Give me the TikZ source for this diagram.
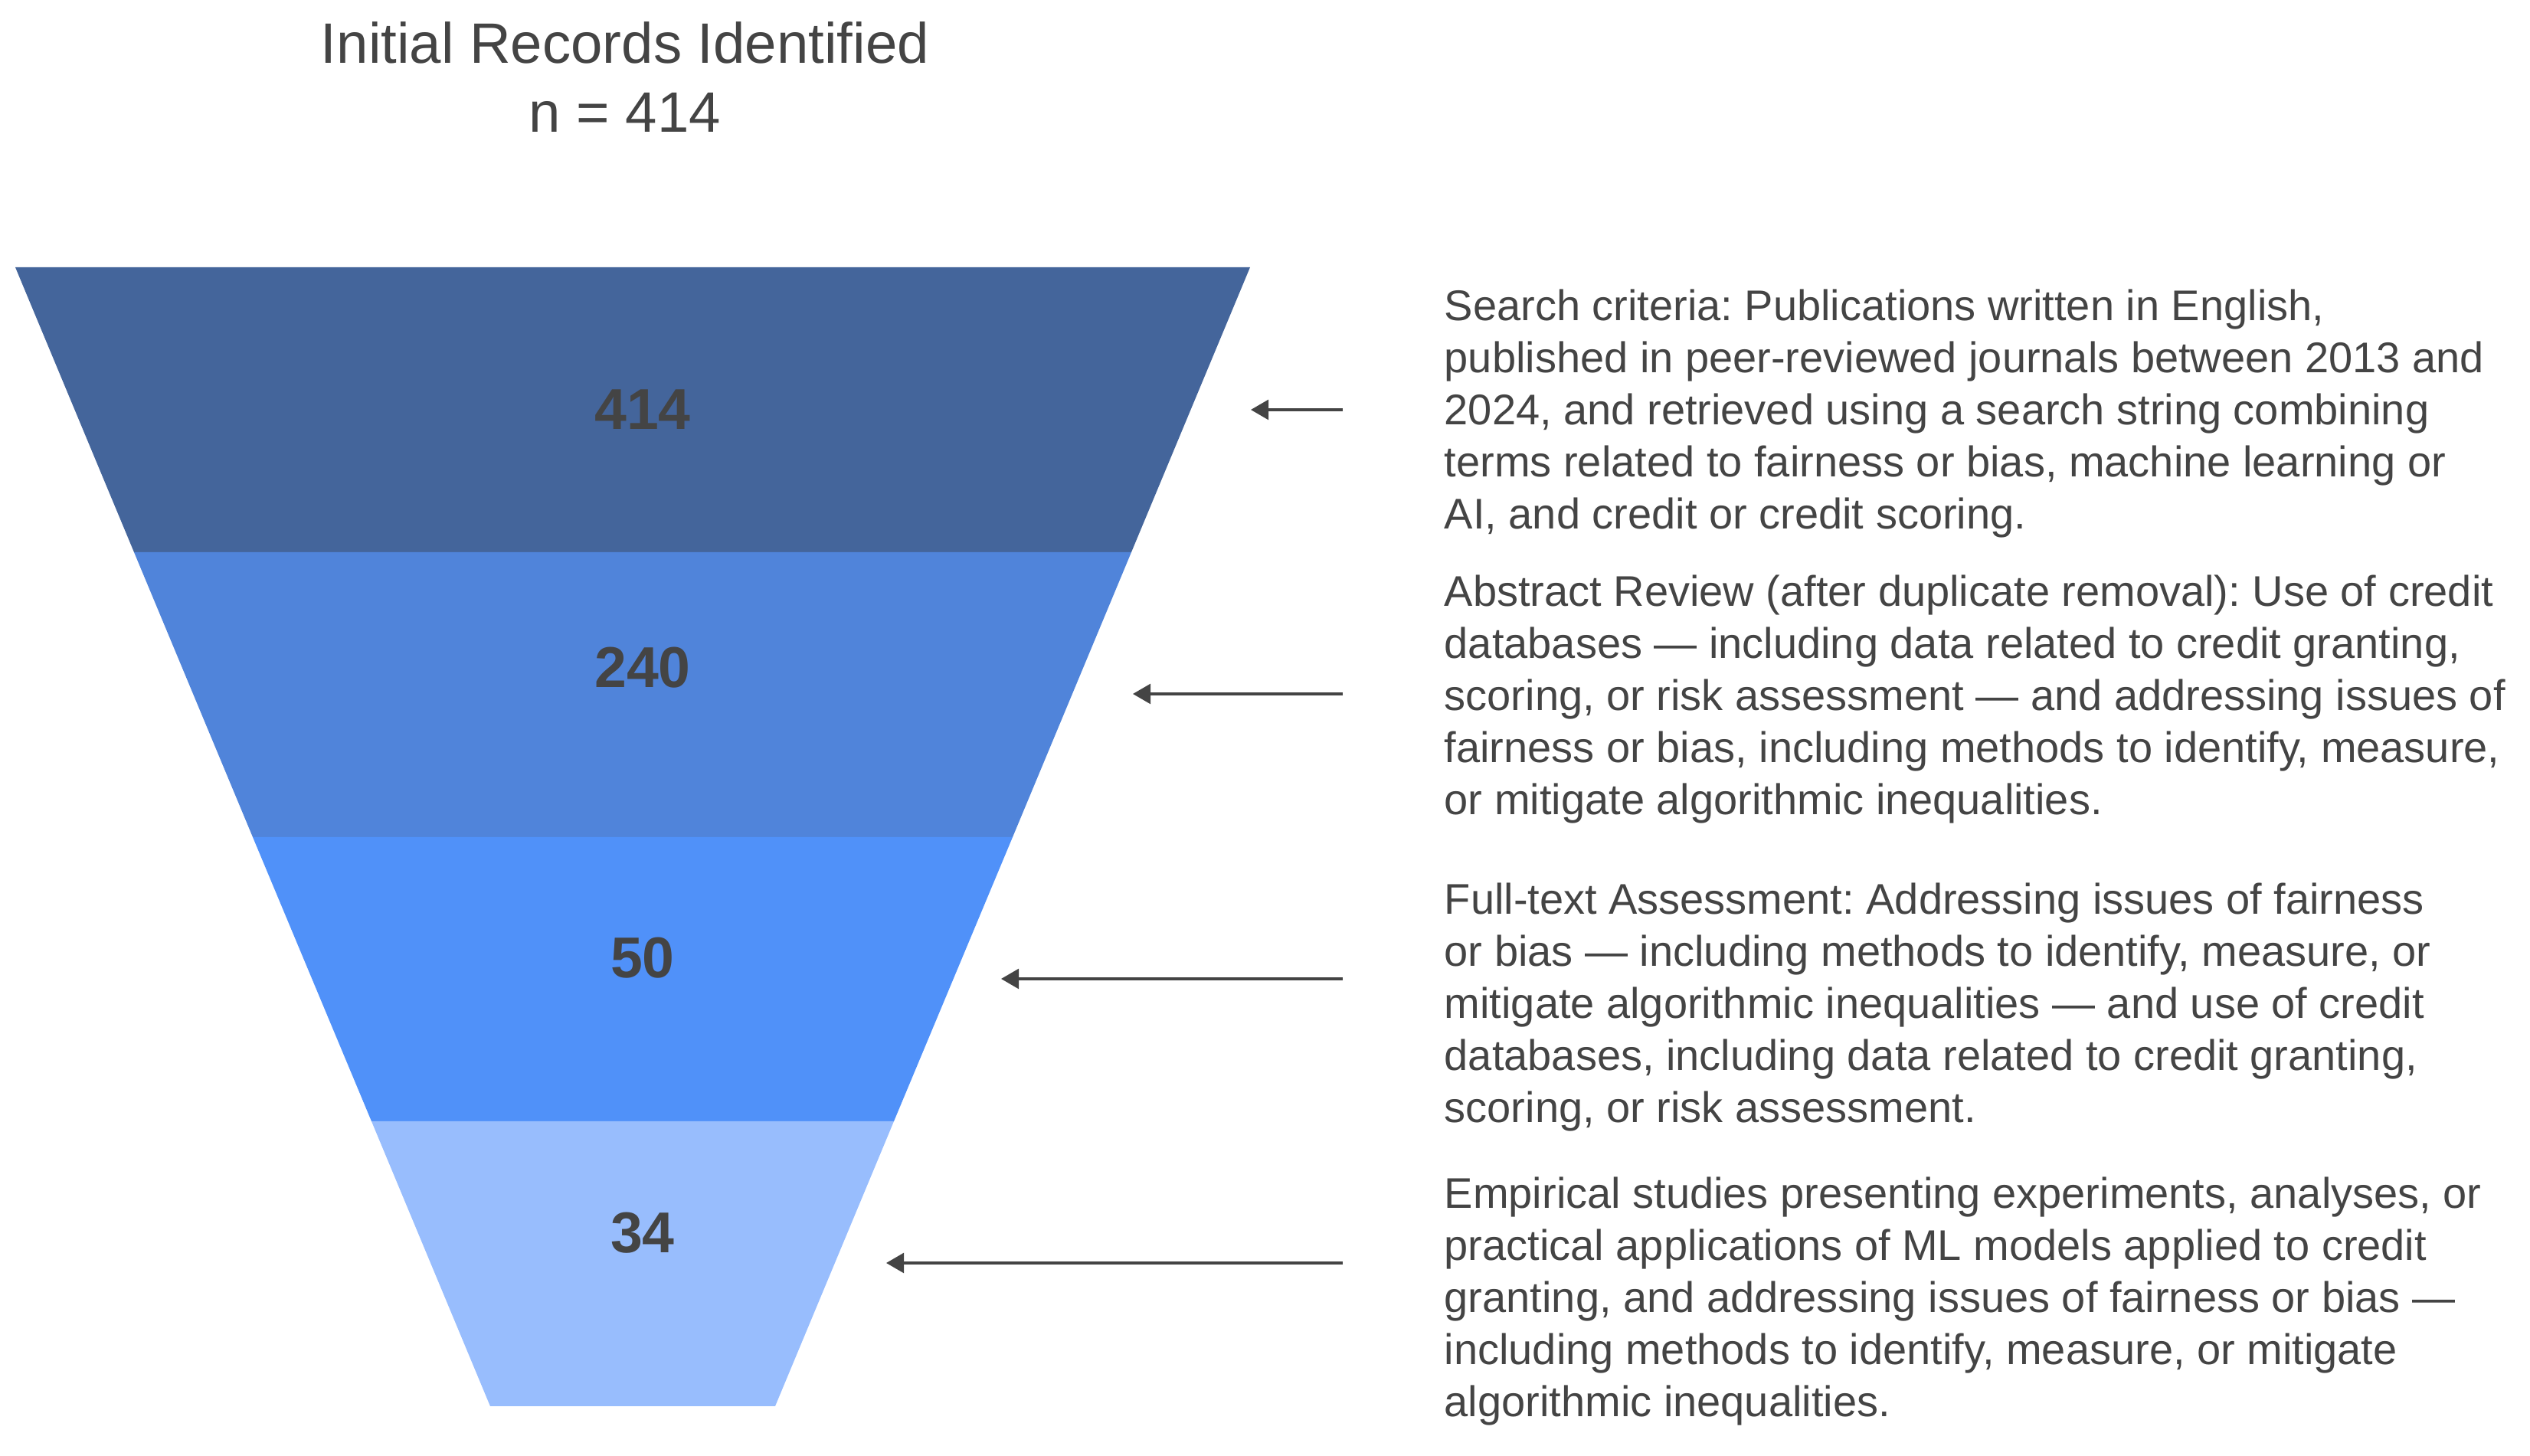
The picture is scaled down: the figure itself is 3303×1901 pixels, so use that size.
\documentclass[tikz,border=0pt]{standalone}
\usepackage{fontspec}
\setmainfont{Liberation Sans}
\usetikzlibrary{arrows.meta}
\definecolor{bandA}{HTML}{44659B}
\definecolor{bandB}{HTML}{5084DA}
\definecolor{bandC}{HTML}{5091F9}
\definecolor{bandD}{HTML}{98BDFD}
\definecolor{txt}{HTML}{444444}
\frenchspacing
\begin{document}
\begin{tikzpicture}[x=0.25pt,y=-0.25pt,
  count/.style={font=\fontsize{18.8}{22}\selectfont\bfseries, text=txt, inner sep=0pt},
  criteria/.style={font=\fontsize{14}{17}\selectfont, text=txt, align=left, inner sep=0pt, anchor=base west},
  pointer/.style={draw=txt, line width=0.85pt, -{Triangle[length=5.8pt,width=6.5pt]}},
  heading/.style={font=\fontsize{18.6}{22.5}\selectfont, text=txt, align=center, inner sep=0pt, anchor=base}]
\useasboundingbox (0,0) rectangle (3303,1901);
% funnel bands
\fill[bandA] (20,349) -- (1632,349) -- (1477,721) -- (175,721) -- cycle;
\fill[bandB] (175,721) -- (1477,721) -- (1322,1093) -- (330,1093) -- cycle;
\fill[bandC] (330,1093) -- (1322,1093) -- (1167,1464) -- (485,1464) -- cycle;
\fill[bandD] (485,1464) -- (1167,1464) -- (1012,1836) -- (640,1836) -- cycle;
% counts
\node[count] (c1) at (839,535) {414};
\node[count] (c2) at (839,872) {240};
\node[count] (c3) at (839,1251) {50};
\node[count] (c4) at (839,1610) {34};
% title (anchor at baseline of its last line)
\node[heading] (title) at (816,173) {Initial Records Identified\\n = 414};
% criteria texts (anchor at baseline of the last line)
\node[criteria] (d1) at (1885,691) {Search criteria: Publications written in English,\\published in peer-reviewed journals between 2013 and\\2024, and retrieved using a search string combining\\terms related to fairness or bias, machine learning or\\AI, and credit or credit scoring.};
\node[criteria] (d2) at (1885,1064) {Abstract Review (after duplicate removal): Use of credit\\databases — including data related to credit granting,\\scoring, or risk assessment — and addressing issues of\\fairness or bias, including methods to identify, measure,\\or mitigate algorithmic inequalities.};
\node[criteria] (d3) at (1885,1466) {Full-text Assessment: Addressing issues of fairness\\or bias — including methods to identify, measure, or\\mitigate algorithmic inequalities — and use of credit\\databases, including data related to credit granting,\\scoring, or risk assessment.};
\node[criteria] (d4) at (1885,1850) {Empirical studies presenting experiments, analyses, or\\practical applications of ML models applied to credit\\granting, and addressing issues of fairness or bias —\\including methods to identify, measure, or mitigate\\algorithmic inequalities.};
% arrows
\coordinate (t1) at (1753,535);  \coordinate (h1) at (1633,535);
\coordinate (t2) at (1753,906);  \coordinate (h2) at (1479,906);
\coordinate (t3) at (1753,1278); \coordinate (h3) at (1307,1278);
\coordinate (t4) at (1753,1649); \coordinate (h4) at (1157,1649);
\draw[pointer] (t1) -- (h1);
\draw[pointer] (t2) -- (h2);
\draw[pointer] (t3) -- (h3);
\draw[pointer] (t4) -- (h4);
\end{tikzpicture}
\end{document}
